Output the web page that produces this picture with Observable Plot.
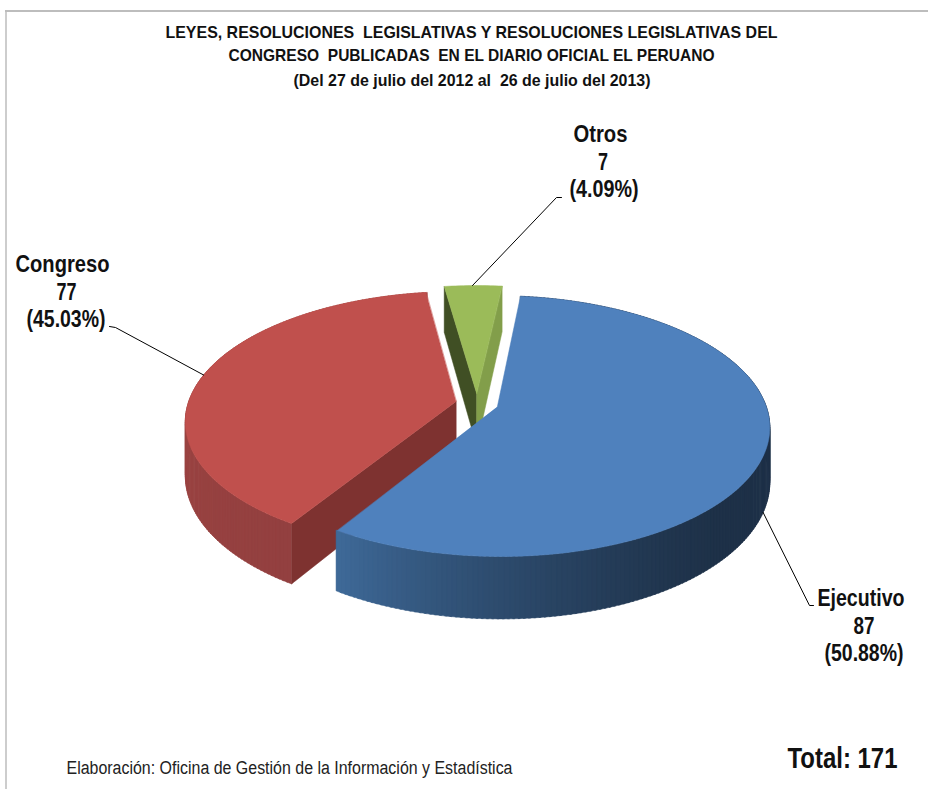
<!DOCTYPE html>
<html lang="es">
<head>
<meta charset="utf-8">
<title>Leyes y resoluciones legislativas</title>
<script src="https://cdn.jsdelivr.net/npm/d3@7"></script>
<script src="https://cdn.jsdelivr.net/npm/@observablehq/plot@0.6"></script>
<style>
html,body{margin:0;padding:0;background:#fff}
svg{display:block}
</style>
</head>
<body>
<div id="chart"></div>
<script>
// ---- data ----
const categories = ["Ejecutivo", "Congreso", "Otros"];
const counts = [87, 77, 7];
const titleLines = [
  "LEYES, RESOLUCIONES  LEGISLATIVAS Y RESOLUCIONES LEGISLATIVAS DEL",
  "CONGRESO  PUBLICADAS  EN EL DIARIO OFICIAL EL PERUANO",
  "(Del 27 de julio del 2012 al  26 de julio del 2013)"
];
const sourceNote = "Elaboración: Oficina de Gestión de la Información y Estadística";
const totalLabel = "Total: 171";

// ---- styles ----
const topColors = ["#4f81bd", "#c0504d", "#9bbb59"];
const cutFaceColor = "#7e3230";
const greenFaces = ["#404f24", "#829e4a"];
const fontFamily = "'Liberation Sans',Arial,sans-serif";

// ---- 3-D pie projection ----
const W = 928, H = 789;
const P = {cx: 476.5, cy: 403, a: 268, b: 126.6, k: 0.147, h: 53, explode: 0.08};
const firstAngle = 6.3 * Math.PI / 180;
const foreshorten = 22.5 * Math.PI / 180; // 3-D pies draw the front slices wider
const warp = t => t + foreshorten * (1 - Math.cos(t - firstAngle)) / 2;
const project = (u, v, z = 0) => {
  const s = 1 / (1 - P.k * v);
  return {x: P.cx + P.a * u * s, y: P.cy + P.b * v * s + P.h * z * s};
};

const arcs = d3.pie().sort(null).value(d => d)
  .startAngle(firstAngle).endAngle(firstAngle + 2 * Math.PI)(counts);

const slices = categories.map((name, i) => {
  const a0 = warp(arcs[i].startAngle), a1 = warp(arcs[i].endAngle);
  const mid = (a0 + a1) / 2;
  const ou = P.explode * Math.sin(mid), ov = -P.explode * Math.cos(mid);
  const rim = (t, z = 0) => project(ou + Math.sin(t), ov - Math.cos(t), z);
  const apex = (z = 0) => project(ou, ov, z);
  return {name, i, a0, a1, rim, apex};
});

const wallFill = {
  Ejecutivo: t => d3.interpolateRgb("#1e3148", "#3f6a99")(Math.pow(Math.max(0, Math.min(1, (t - 2.3) / 1.4)), 1.5)),
  Congreso: t => d3.interpolateRgb("#934040", "#a04643")(Math.max(0, Math.min(1, (t - 3.7) / 1.5)))
};

const faces = [];
const addFace = (id, fill, pts) => pts.forEach(p => faces.push({id, fill, x: p.x, y: p.y}));

function sliceFaces(s) {
  const n = Math.max(6, Math.round((s.a1 - s.a0) * 60));
  const ts = d3.range(n + 1).map(j => s.a0 + (s.a1 - s.a0) * j / n);
  if (wallFill[s.name]) {
    for (let j = 0; j < n; j++) {
      addFace(`${s.name}-w${j}`, wallFill[s.name](ts[j]),
        [s.rim(ts[j]), s.rim(ts[j + 1] + 0.006), s.rim(ts[j + 1] + 0.006, 1), s.rim(ts[j], 1)]);
    }
  }
  if (s.name === "Congreso") {
    addFace("Congreso-cut", cutFaceColor, [s.apex(), s.rim(s.a0), s.rim(s.a0, 1), s.apex(1)]);
  }
  if (s.name === "Otros") {
    addFace("Otros-left", greenFaces[0], [s.apex(), s.rim(s.a0), s.rim(s.a0, 1), s.apex(1)]);
    addFace("Otros-right", greenFaces[1], [s.apex(), s.rim(s.a1), s.rim(s.a1, 1), s.apex(1)]);
  }
  addFace(`${s.name}-top`, topColors[s.i], [s.apex(), ...ts.map(t => s.rim(t))]);
}
// painter's order: back to front
[slices[2], slices[1], slices[0]].forEach(sliceFaces);

// ---- text rows (drawn squeezed to the widths of the condensed original) ----
const total = d3.sum(counts);
const labelLines = categories.map((c, i) => [c, String(counts[i]), `(${(counts[i] / total * 100).toFixed(2)}%)`]);
const place = [
  {xs: [860.5, 863.5, 863.5], ys: [598, 626, 653], lens: [87, 21, 79]},
  {xs: [62, 66, 65.5], ys: [264, 292, 319], lens: [94, 20, 79]},
  {xs: [600, 602.5, 603.5], ys: [134, 162, 189], lens: [54, 10, 69]}
];
const labelRows = labelLines.flatMap((lines, i) => lines.map((text, j) => ({
  text, x: place[i].xs[j], y: place[i].ys[j], len: place[i].lens[j]
})));
const titleRows = titleLines.map((text, i) => ({
  text, x: [471, 471, 471.5][i], y: [32, 55, 80][i], len: [612, 486, 357][i]
}));
const textLengths = new Map([
  ...labelRows.map(d => [d.text, d.len]),
  ...titleRows.map(d => [d.text, d.len]),
  [sourceNote, 446],
  [totalLabel, 110]
]);

// ---- leaders: elbow, then a point on the slice's rim ----
const leaderPaths = [
  {slice: 0, t: 1.946, z: 1, pts: [{x: 813, y: 605}, {x: 809, y: 605}]},
  {slice: 1, t: 4.93, z: 0, pts: [{x: 109, y: 326}, {x: 115, y: 327}]},
  {slice: 2, t: 6.265, z: 0, pts: [{x: 561, y: 197}, {x: 556, y: 197}]}
];
const leaders = leaderPaths.flatMap((l, id) =>
  [...l.pts, slices[l.slice].rim(l.t, l.z)].map(p => ({id, x: p.x, y: p.y})));

const plot = Plot.plot({
  width: W, height: H, margin: 0,
  x: {domain: [0, W], range: [0, W], axis: null},
  y: {domain: [0, H], range: [0, H], axis: null},
  color: {type: "identity"},
  style: {background: "#fff", fontFamily},
  marks: [
    Plot.ruleY([10.5], {x1: 5, x2: W, stroke: "#bdbdbd", strokeWidth: 2}),
    Plot.ruleX([5.5], {y1: 10, y2: H, stroke: "#bdbdbd", strokeWidth: 1.5}),
    Plot.line(faces, {x: "x", y: "y", z: "id", fill: "fill", stroke: "fill", strokeWidth: 0.5, curve: "linear-closed"}),
    Plot.line(leaders, {x: "x", y: "y", z: "id", stroke: "#000", strokeWidth: 1}),
    Plot.text(titleRows, {x: "x", y: "y", text: "text", fontFamily, fontWeight: "bold", fontSize: 17, fill: "#111"}),
    Plot.text(labelRows, {x: "x", y: "y", text: "text", fontFamily, fontWeight: "bold", fontSize: 24, fill: "#111"}),
    Plot.text([sourceNote], {x: 66, y: 768, text: d => d, textAnchor: "start", fontFamily, fontSize: 18, fill: "#222"}),
    Plot.text([totalLabel], {x: 842, y: 758, text: d => d, fontFamily, fontWeight: "bold", fontSize: 30, fill: "#111"})
  ]
});
plot.querySelectorAll("text").forEach(el => {
  const len = textLengths.get(el.textContent);
  if (len) {
    el.setAttribute("textLength", len);
    el.setAttribute("lengthAdjust", "spacingAndGlyphs");
  }
});
document.getElementById("chart").append(plot);
</script>
</body>
</html>
